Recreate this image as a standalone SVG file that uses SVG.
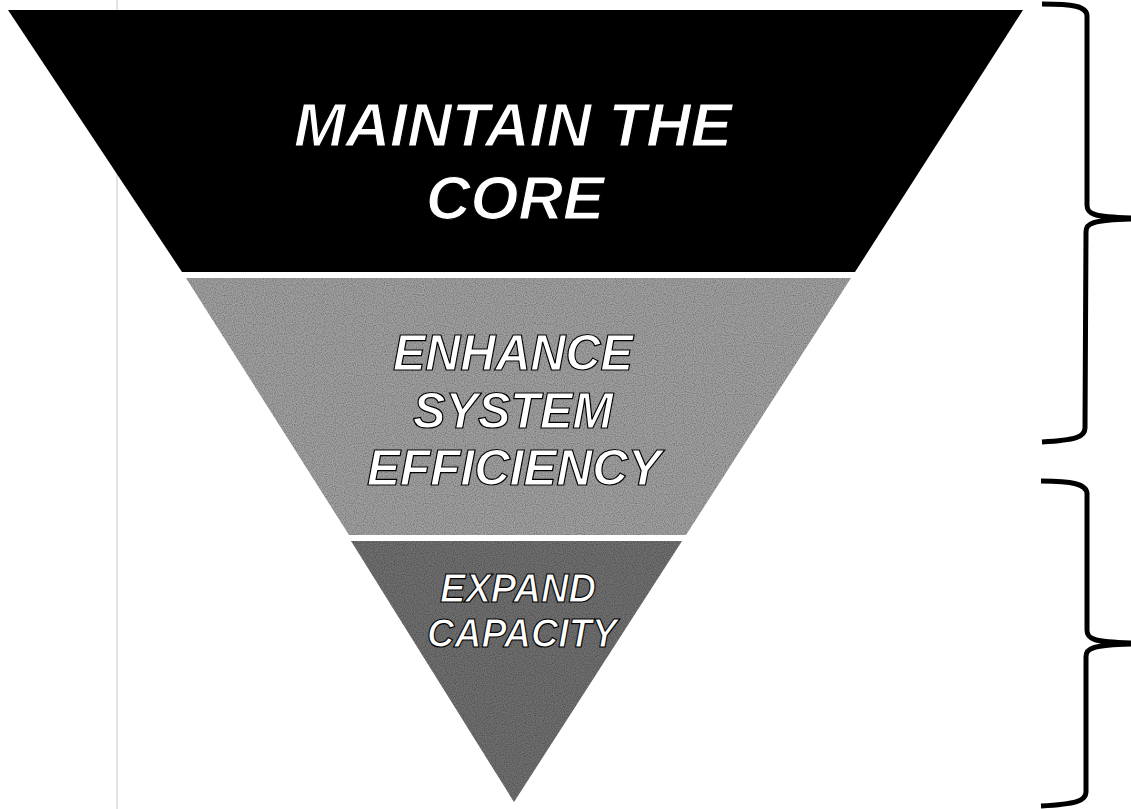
<svg xmlns="http://www.w3.org/2000/svg" width="1131" height="809" viewBox="0 0 1131 809">
<defs>
<style>
.lbl{font-family:"Liberation Sans",Arial,sans-serif;font-style:italic;font-weight:bold;fill:#fff;stroke:#000;stroke-width:1.2;text-anchor:middle}
.brace{fill:none;stroke:#000;stroke-width:5;stroke-linecap:butt;stroke-linejoin:round}
</style>
<filter id="grain" x="0" y="0" width="1" height="1">
<feTurbulence type="fractalNoise" baseFrequency="0.9" numOctaves="1" seed="3" result="n"/>
<feColorMatrix in="n" type="matrix" values="0 0 0 0 0  0 0 0 0 0  0 0 0 0 0  0 0 0 1.2 -0.45" result="dark"/>
<feComposite in="dark" in2="SourceGraphic" operator="in" result="d2"/>
<feMerge><feMergeNode in="SourceGraphic"/><feMergeNode in="d2"/></feMerge>
</filter>
</defs>
<rect width="1131" height="809" fill="#fff"/>
<line x1="117" y1="0" x2="117" y2="809" stroke="#c8c8c8" stroke-width="1"/>
<g id="band-core">
<polygon points="8,10 1023,10 855,272 182,272" fill="#000"/>
<text class="lbl" x="513" y="146" font-size="62" textLength="438" lengthAdjust="spacingAndGlyphs">MAINTAIN THE</text>
<text class="lbl" x="515" y="219" font-size="62" textLength="178" lengthAdjust="spacingAndGlyphs">CORE</text>
</g>
<g id="band-efficiency">
<polygon points="186,278 851,278 686,535 349,535" fill="#a0a0a0" filter="url(#grain)"/>
<text class="lbl" x="513" y="370" font-size="50" textLength="240" lengthAdjust="spacingAndGlyphs">ENHANCE</text>
<text class="lbl" x="513" y="428" font-size="50" textLength="200" lengthAdjust="spacingAndGlyphs">SYSTEM</text>
<text class="lbl" x="514" y="485" font-size="50" textLength="294" lengthAdjust="spacingAndGlyphs">EFFICIENCY</text>
</g>
<g id="band-capacity">
<polygon points="351,541 682,541 514,802" fill="#6f6f6f" filter="url(#grain)"/>
<text class="lbl" x="518" y="602" font-size="40" textLength="156" lengthAdjust="spacingAndGlyphs">EXPAND</text>
<text class="lbl" x="522" y="647" font-size="40" textLength="190" lengthAdjust="spacingAndGlyphs">CAPACITY</text>
</g>
<g id="connectors">
<path class="brace" d="M1042,4 C1072,4 1087,6 1087,16 L1087,205 C1087,214 1093,217 1131,218 M1131,219 C1093,220 1086,223 1086,232 L1085,428 C1085,437 1076,440 1042,442"/>
<path class="brace" d="M1041,481 C1072,481 1087,484 1087,494 L1087,630 C1087,639 1093,642 1131,643 M1131,644 C1093,645 1086,648 1086,657 L1086,792 C1086,801 1076,804 1041,806"/>
</g>
</svg>
